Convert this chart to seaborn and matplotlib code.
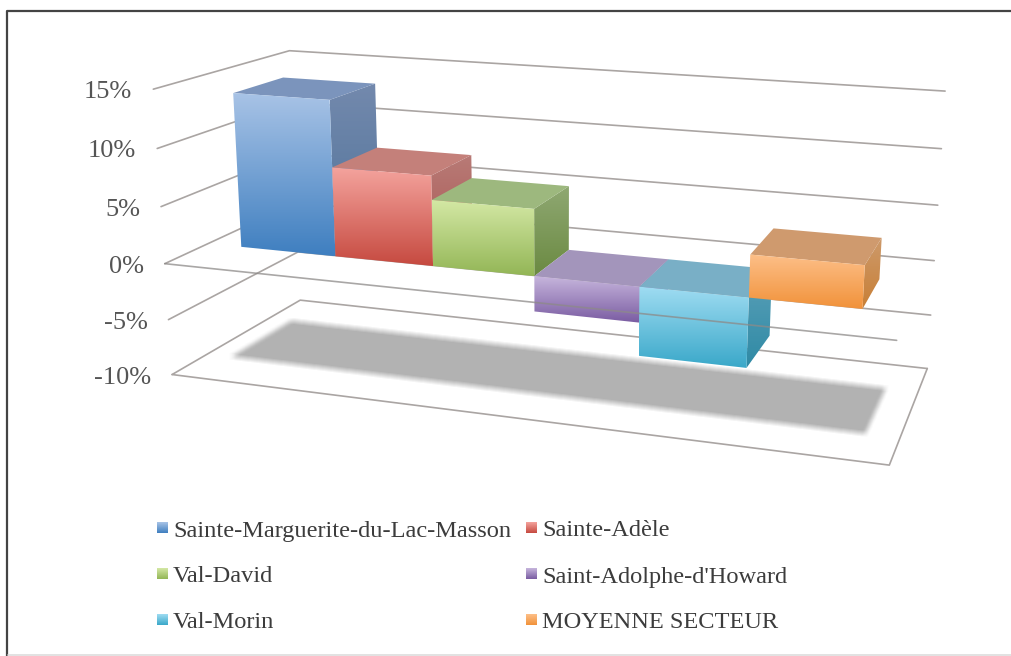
import numpy as np
import pandas as pd
import matplotlib
matplotlib.use("Agg")
import matplotlib.pyplot as plt
from matplotlib.patches import Polygon
from matplotlib.path import Path
import seaborn as sns

communes = ["Sainte-Marguerite-du-Lac-Masson", "Sainte-Adèle", "Val-David",
            "Saint-Adolphe-d'Howard", "Val-Morin", "MOYENNE SECTEUR"]
variation = [13.75, 7.9, 5.8, -3.1, -6.0, 3.6]
tick_values = [15, 10, 5, 0, -5, -10]
tick_labels = ["15%", "10%", "5%", "0%", "-5%", "-10%"]

base_colors = ["#4f81bd", "#c0504d", "#9bbb59", "#8064a2", "#4bacc6", "#f79646"]
front_top = ["#a8c3e6", "#f4a39d", "#d4e8a5", "#c6b5dc", "#9fdcf2", "#fdbf88"]
front_bot = ["#3f7fc0", "#c64a40", "#93b656", "#7a5ca2", "#3aa8c9", "#f1923a"]
top_col = ["#7b94bc", "#c4807a", "#9db87e", "#a395bb", "#79afc6", "#cf9a6e"]
side_top = ["#7389ad", "#b87a76", "#8fa872", "#8f7fab", "#5ba0b8", "#cd9a6b"]
side_bot = ["#4e7299", "#a85550", "#6b8a42", "#6d5590", "#2f8aa5", "#c87f36"]

# box of the 3d chart: category axis, depth 0-1, value -> picture pixels
X0, X1 = -0.86, 5.90
D0, D1 = 0.30, 0.68
src = [(X0, 0, -10), (X1, 0, -10), (X1, 1, -10), (X0, 1, -10),
       (X0, 0, 15), (X0, 1, 15), (X1, 1, 15), (X1, 0, 15)]
dst = [(172, 373), (890, 465), (927, 368), (300, 302),
       (153, 87), (290, 52), (945, 88), (908, 147)]

rows = []
for (a, b, c), (px, py) in zip(src, dst):
    rows.append([a, b, c, 1, 0, 0, 0, 0, -px*a, -px*b, -px*c, -px])
    rows.append([0, 0, 0, 0, a, b, c, 1, -py*a, -py*b, -py*c, -py])
P = np.linalg.svd(np.array(rows, float))[2][-1].reshape(3, 4)


def project(x, d, v):
    q = P @ np.array([x, d, v, 1.0])
    return q[0]/q[2], q[1]/q[2]


sns.set_theme(style="white")
plt.rcParams["font.family"] = ["Liberation Serif", "DejaVu Serif"]

fig = plt.figure(figsize=(10.11, 6.56), dpi=100)

# seaborn gives the bar geometry, the faces are then projected from it
df = pd.DataFrame({"commune": communes, "variation": variation})
hidden = fig.add_axes([0, 0, 1, 1])
sns.barplot(data=df, x="commune", y="variation", hue="commune", palette=base_colors,
            width=1.0, legend=False, ax=hidden)
bars = list(hidden.patches)
hidden.set_visible(False)

ax = fig.add_axes([0, 0, 1, 1])
ax.set_xlim(0, 1011)
ax.set_ylim(656, 0)
ax.axis("off")

GRID = "#aaa5a3"
for v in tick_values:
    ax.plot(*zip(project(X0, 0, v), project(X0, 1, v), project(X1, 1, v)),
            color=GRID, lw=1.2, zorder=1)
for v, lab in zip(tick_values, tick_labels):
    px, py = project(X0, 0, v)
    ax.text(px - 21, py + 3, lab, ha="right", va="center", fontsize=19, color="#555555")
ax.plot(*zip(project(X0, 0, -10), project(X1, 0, -10), project(X1, 1, -10)),
        color=GRID, lw=1.2, zorder=1)

# blurred shadow on the floor
sx0, sx1 = bars[0].get_x() - 0.1, bars[5].get_x() + 1.1
shadow = [project(sx0, D0 - 0.05, -10), project(sx1, D0 - 0.05, -10),
          project(sx1, D1 + 0.05, -10), project(sx0, D1 + 0.05, -10)]
gx, gy = np.meshgrid(np.arange(1011), np.arange(656))
mask = Path(shadow).contains_points(np.c_[gx.ravel() + .5, gy.ravel() + .5]).reshape(gx.shape).astype(float)
kernel = np.ones(7)/7
for axis in (0, 1):
    mask = np.apply_along_axis(lambda r: np.convolve(r, kernel, mode="same"), axis, mask)
rgba = np.zeros(mask.shape + (4,))
rgba[..., :3] = 178/255
rgba[..., 3] = mask
ax.imshow(rgba, extent=(0, 1011, 656, 0), aspect="auto", zorder=2)


def gradient_face(points, c_top, c_bot, z):
    pts = np.array(points)
    c0 = np.array(matplotlib.colors.to_rgb(c_top))
    c1 = np.array(matplotlib.colors.to_rgb(c_bot))
    t = np.linspace(0, 1, 64)[:, None, None]
    img = c0[None, None, :]*(1 - t) + c1[None, None, :]*t
    im = ax.imshow(img, extent=(pts[:, 0].min(), pts[:, 0].max(), pts[:, 1].max(), pts[:, 1].min()),
                   aspect="auto", zorder=z, interpolation="bilinear")
    poly = Polygon(pts, closed=True, transform=ax.transData, fc="none", ec="none")
    ax.add_patch(poly)
    im.set_clip_path(poly)


for i, bar in enumerate(bars):
    x0, x1 = bar.get_x(), bar.get_x() + bar.get_width()
    v0, v1 = sorted([bar.get_y(), bar.get_y() + bar.get_height()])
    z = 3 + i
    gradient_face([project(x1, D0, v1), project(x1, D1, v1), project(x1, D1, v0), project(x1, D0, v0)],
                  side_top[i], side_bot[i], z)
    ax.add_patch(Polygon([project(x0, D0, v1), project(x1, D0, v1), project(x1, D1, v1), project(x0, D1, v1)],
                         fc=top_col[i], ec="none", zorder=z))
    gradient_face([project(x0, D0, v1), project(x1, D0, v1), project(x1, D0, v0), project(x0, D0, v0)],
                  front_top[i], front_bot[i], z + 0.5)

# front edge of the zero plane runs over the negative bars
ax.plot(*zip(project(X0, 0, 0), project(X1, 0, 0)), color="#8d8a88", lw=1.2, alpha=0.75, zorder=12)

# legend
leg_x = [157, 157, 157, 526, 526, 526]
leg_y = [529, 575, 621, 529, 575, 621]
order = [0, 2, 4, 1, 3, 5]
for i, lx, ly in zip(order, leg_x, leg_y):
    gradient_face([(lx, ly - 7), (lx + 11, ly - 7), (lx + 11, ly + 4), (lx, ly + 4)],
                  front_top[i], front_bot[i], 5)
    ax.text(lx + 16, ly + 2, communes[i], ha="left", va="center", fontsize=17.6, color="#3c3c3c")

# outer frame, dark on top and left, faint at the bottom
ax.plot([7, 7, 1011], [656, 11, 11], color="#444444", lw=1.6, zorder=0.5)
ax.plot([8, 1011], [655, 655], color="#dddddd", lw=1.2, zorder=0.5)
ax.set_xlim(0, 1011)
ax.set_ylim(656, 0)

fig.savefig("out.png", dpi=100)
